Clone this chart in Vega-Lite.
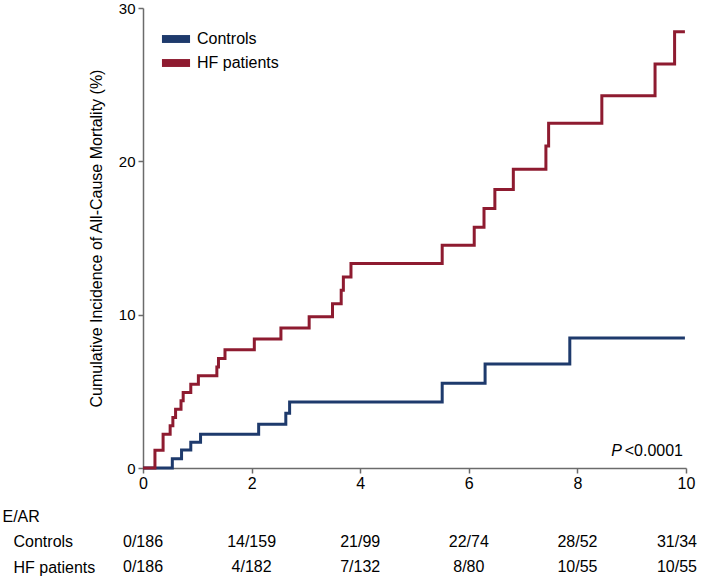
{
  "$schema": "https://vega.github.io/schema/vega-lite/v6.json",
  "autosize": {"type": "pad"},
  "padding": {"left": 2, "top": 1, "right": 4, "bottom": 2},
  "bounds": "flush",
  "spacing": 48,
  "config": {
    "view": {"stroke": null},
    "font": "Liberation Sans",
    "axis": {"labelFont": "Liberation Sans", "titleFont": "Liberation Sans"},
    "legend": {"labelFont": "Liberation Sans"}
  },
  "datasets": {
    "curves": [
      {"group": "Controls", "t": 0, "pct": 0},
      {"group": "Controls", "t": 0.54, "pct": 0.6},
      {"group": "Controls", "t": 0.71, "pct": 1.18},
      {"group": "Controls", "t": 0.88, "pct": 1.68},
      {"group": "Controls", "t": 1.06, "pct": 2.2},
      {"group": "Controls", "t": 2.13, "pct": 2.85},
      {"group": "Controls", "t": 2.63, "pct": 3.57},
      {"group": "Controls", "t": 2.7, "pct": 4.31},
      {"group": "Controls", "t": 5.51, "pct": 5.53},
      {"group": "Controls", "t": 6.3, "pct": 6.78},
      {"group": "Controls", "t": 7.86, "pct": 8.48},
      {"group": "Controls", "t": 9.98, "pct": 8.48},
      {"group": "HF patients", "t": 0, "pct": 0},
      {"group": "HF patients", "t": 0.22, "pct": 1.15},
      {"group": "HF patients", "t": 0.37, "pct": 2.2},
      {"group": "HF patients", "t": 0.5, "pct": 2.75},
      {"group": "HF patients", "t": 0.55, "pct": 3.29},
      {"group": "HF patients", "t": 0.6, "pct": 3.83},
      {"group": "HF patients", "t": 0.7, "pct": 4.38},
      {"group": "HF patients", "t": 0.74, "pct": 4.92},
      {"group": "HF patients", "t": 0.88, "pct": 5.47},
      {"group": "HF patients", "t": 1.02, "pct": 6.01},
      {"group": "HF patients", "t": 1.36, "pct": 6.58},
      {"group": "HF patients", "t": 1.39, "pct": 7.14},
      {"group": "HF patients", "t": 1.51, "pct": 7.71},
      {"group": "HF patients", "t": 2.05, "pct": 8.41},
      {"group": "HF patients", "t": 2.54, "pct": 9.13},
      {"group": "HF patients", "t": 3.06, "pct": 9.87},
      {"group": "HF patients", "t": 3.49, "pct": 10.72},
      {"group": "HF patients", "t": 3.65, "pct": 11.6},
      {"group": "HF patients", "t": 3.69, "pct": 12.46},
      {"group": "HF patients", "t": 3.83, "pct": 13.33},
      {"group": "HF patients", "t": 5.51, "pct": 14.53},
      {"group": "HF patients", "t": 6.1, "pct": 15.7},
      {"group": "HF patients", "t": 6.28, "pct": 16.93},
      {"group": "HF patients", "t": 6.48, "pct": 18.17},
      {"group": "HF patients", "t": 6.82, "pct": 19.48},
      {"group": "HF patients", "t": 7.42, "pct": 21.0},
      {"group": "HF patients", "t": 7.47, "pct": 22.48},
      {"group": "HF patients", "t": 8.45, "pct": 24.27},
      {"group": "HF patients", "t": 9.43, "pct": 26.34},
      {"group": "HF patients", "t": 9.79, "pct": 28.45},
      {"group": "HF patients", "t": 9.98, "pct": 28.45}
    ],
    "table": [
      {"row": "Controls", "t": 0, "label": "0/186"},
      {"row": "Controls", "t": 2, "label": "14/159"},
      {"row": "Controls", "t": 4, "label": "21/99"},
      {"row": "Controls", "t": 6, "label": "22/74"},
      {"row": "Controls", "t": 8, "label": "28/52"},
      {"row": "Controls", "t": 10, "label": "31/34"},
      {"row": "HF patients", "t": 0, "label": "0/186"},
      {"row": "HF patients", "t": 2, "label": "4/182"},
      {"row": "HF patients", "t": 4, "label": "7/132"},
      {"row": "HF patients", "t": 6, "label": "8/80"},
      {"row": "HF patients", "t": 8, "label": "10/55"},
      {"row": "HF patients", "t": 10, "label": "10/55"}
    ]
  },
  "vconcat": [
    {
      "width": 543,
      "height": 460,
      "layer": [
        {
          "data": {"name": "curves"},
          "mark": {"type": "line", "interpolate": "step-after", "strokeWidth": 3},
          "encoding": {
            "x": {
              "field": "t", "type": "quantitative",
              "scale": {"domain": [0, 10], "nice": false},
              "axis": {
                "values": [0, 2, 4, 6, 8, 10], "title": null, "grid": false,
                "tickSize": 5, "labelFontSize": 16, "labelPadding": 2, "labelFlush": false,
                "domainColor": "#6b6b6b", "tickColor": "#6b6b6b", "domainWidth": 1.5, "tickWidth": 1.5,
                "labelColor": "#000000"
              }
            },
            "y": {
              "field": "pct", "type": "quantitative",
              "scale": {"domain": [0, 30], "nice": false},
              "axis": {
                "values": [0, 10, 20, 30], "grid": false,
                "title": "Cumulative Incidence of All-Cause Mortality (%)",
                "titleFontSize": 16, "titleFontWeight": "normal", "titleColor": "#000000", "titlePadding": 14,
                "tickSize": 5, "labelFontSize": 15, "labelPadding": 3, "labelFlush": false,
                "domainColor": "#6b6b6b", "tickColor": "#6b6b6b", "domainWidth": 1.5, "tickWidth": 1.5,
                "labelColor": "#000000"
              }
            },
            "color": {
              "field": "group", "type": "nominal",
              "scale": {"domain": ["Controls", "HF patients"], "range": ["#1e3a6c", "#8e1b30"]},
              "legend": {
                "orient": "none", "legendX": 21, "legendY": 19, "title": null,
                "labelFontSize": 16, "labelColor": "#000000",
                "symbolType": "M-1.17,-0.33H1.17V0.33H-1.17Z", "symbolSize": 576,
                "symbolStrokeWidth": 0, "labelOffset": 9, "rowPadding": 4, "padding": 0,
                "encode": {"symbols": {"update": {"fill": {"scale": "color", "field": "value"}, "opacity": {"value": 1}}}}
              }
            }
          }
        },
        {
          "data": {"values": [{}]},
          "mark": {"type": "text", "align": "right", "baseline": "middle", "fontSize": 16, "dx": -3, "color": "#000000"},
          "encoding": {
            "x": {"datum": 10, "type": "quantitative"},
            "y": {"datum": 1.13, "type": "quantitative"},
            "text": {"value": "<0.0001"}
          }
        },
        {
          "data": {"values": [{}]},
          "mark": {"type": "text", "align": "right", "baseline": "middle", "fontSize": 16, "fontStyle": "italic", "dx": -64, "color": "#000000"},
          "encoding": {
            "x": {"datum": 10, "type": "quantitative"},
            "y": {"datum": 1.13, "type": "quantitative"},
            "text": {"value": "P"}
          }
        }
      ]
    },
    {
      "width": 543,
      "height": 51,
      "data": {"name": "table"},
      "encoding": {
        "x": {"field": "t", "type": "quantitative", "scale": {"domain": [0, 10], "nice": false}, "axis": null},
        "y": {
          "field": "row", "type": "nominal",
          "scale": {"type": "point", "domain": ["E/AR", "Controls", "HF patients"], "padding": 0},
          "axis": {
            "title": null, "domain": false, "ticks": false, "tickSize": 0,
            "labelAlign": "left", "labelBaseline": "middle", "labelFontSize": 16, "labelColor": "#000000",
            "labelPadding": {"condition": {"test": "datum.value === 'E/AR'", "value": 141}, "value": 130}
          }
        },
        "text": {"field": "label"}
      },
      "layer": [
        {
          "transform": [{"filter": "datum.t < 10"}],
          "mark": {"type": "text", "fontSize": 16, "baseline": "middle", "color": "#000000"}
        },
        {
          "transform": [{"filter": "datum.t == 10"}],
          "mark": {"type": "text", "fontSize": 16, "baseline": "middle", "align": "right", "dx": 11, "color": "#000000"}
        }
      ]
    }
  ]
}
